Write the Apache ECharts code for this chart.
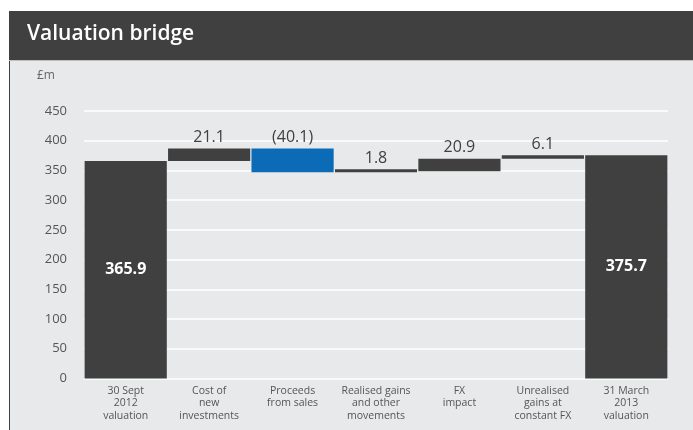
<!DOCTYPE html>
<html><head><meta charset="utf-8">
<script src="https://cdn.jsdelivr.net/npm/echarts@6/dist/echarts.min.js"></script>
<style>html,body{margin:0;padding:0;background:#fff}#c{width:693px;height:430px}</style>
</head><body><div id="c"></div>
<script>
const categories = ['30 Sept\n2012\nvaluation', 'Cost of\nnew\ninvestments', 'Proceeds\nfrom sales', 'Realised gains\nand other\nmovements', 'FX\nimpact', 'Unrealised\ngains at\nconstant FX', '31 March\n2013\nvaluation'];
const values = [365.9, 21.1, -40.1, 1.8, 20.9, 6.1, 375.7];
const kinds = ['total', 'delta', 'delta', 'delta', 'delta', 'delta', 'total'];
const yTicks = [0, 50, 100, 150, 200, 250, 300, 350, 400, 450];

const base = [], height = [], colors = [];
let run = 0;
values.forEach((v, i) => {
  if (kinds[i] === 'total') { base.push(0); height.push(v); run = v; colors.push('#404040'); }
  else {
    if (v >= 0) { base.push(run); height.push(v); }
    else { base.push(run + v); height.push(-v); }
    run += v;
    colors.push(v < 0 ? '#0b6bb6' : '#404040');
  }
});
const fmt = v => v < 0 ? '(' + Math.abs(v).toFixed(1) + ')' : v.toFixed(1);

const chart = echarts.init(document.getElementById('c'));
chart.setOption({
  animation: false,
  backgroundColor: '#ffffff',
  graphic: [
    { type: 'rect', z: -10, shape: { x: 9, y: 11, width: 684, height: 49 }, style: { fill: '#404040' } },
    { type: 'rect', z: -10, shape: { x: 9, y: 60, width: 684, height: 370 }, style: { fill: '#e8e9eb' } },
    { type: 'line', z: -9, shape: { x1: 9.5, y1: 60, x2: 9.5, y2: 430 }, style: { stroke: '#404040', lineWidth: 1 } },
    { type: 'line', z: -9, shape: { x1: 9, y1: 60.5, x2: 693, y2: 60.5 }, style: { stroke: '#bfbfbf', lineWidth: 1 } },
    { type: 'text', left: 27, top: 24, style: { text: 'Valuation bridge', fill: '#ffffff', font: '600 21px "Open Sans", sans-serif' } },
    { type: 'text', left: 37, top: 70, style: { text: '£m', fill: '#666666', font: '12px "Open Sans", sans-serif' } }
  ],
  grid: { left: 84, right: 25, top: 111, bottom: 51.5 },
  xAxis: {
    type: 'category', data: categories,
    axisLine: { show: false }, axisTick: { show: false },
    axisLabel: { color: '#555555', fontSize: 10.5, lineHeight: 12.5, margin: 6, interval: 0, fontFamily: '"Open Sans", sans-serif' }
  },
  yAxis: {
    type: 'value', min: 0, max: 450, interval: 50,
    axisLine: { show: false }, axisTick: { show: false },
    axisLabel: { color: '#555555', fontSize: 13, margin: 17, fontFamily: '"Open Sans", sans-serif',
      formatter: v => yTicks.includes(v) ? String(v) : '' },
    splitLine: { lineStyle: { color: '#ffffff', width: 1.5 } }
  },
  series: [
    { type: 'bar', stack: 'w', data: base, itemStyle: { color: 'transparent' }, barCategoryGap: '1.5%', silent: true },
    { type: 'bar', stack: 'w', barMinHeight: 3, barCategoryGap: '1.5%',
      data: height.map((h, i) => ({
        value: h,
        itemStyle: { color: colors[i] },
        label: kinds[i] === 'total'
          ? { show: true, position: 'inside', color: '#ffffff', fontSize: 16, fontWeight: 'bold', formatter: () => fmt(values[i]) }
          : { show: true, position: 'top', distance: 3, color: '#404040', fontSize: 16, formatter: () => fmt(values[i]) }
      })),
      label: { fontFamily: '"Open Sans", sans-serif' }
    }
  ]
});
</script></body></html>
